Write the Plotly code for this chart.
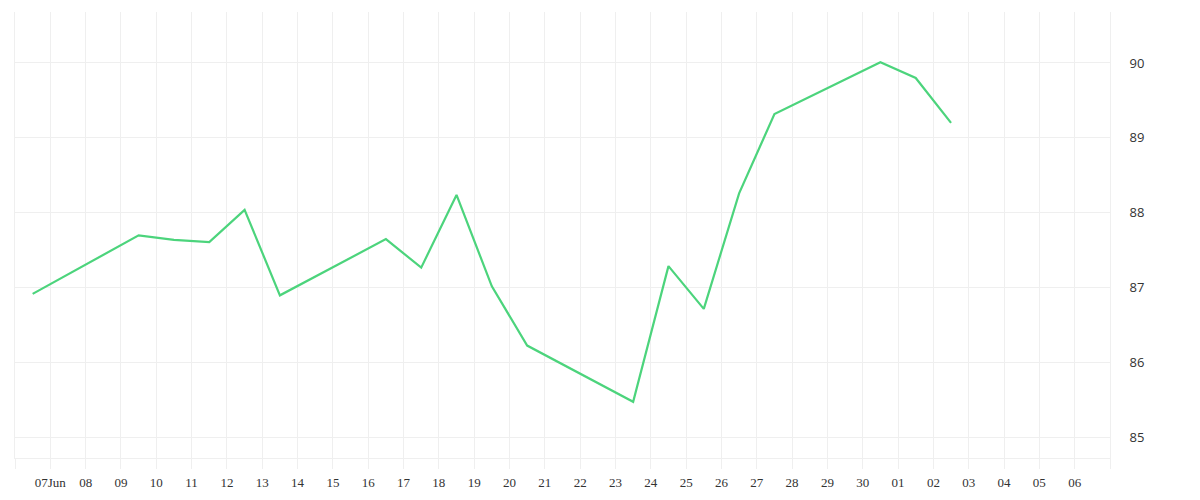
import plotly.graph_objects as go
import pandas as pd

# trading days (points sit at midday)
dates = ["2025-06-06", "2025-06-09", "2025-06-10", "2025-06-11", "2025-06-12",
         "2025-06-13", "2025-06-16", "2025-06-17", "2025-06-18", "2025-06-19",
         "2025-06-20", "2025-06-23", "2025-06-24", "2025-06-25", "2025-06-26",
         "2025-06-27", "2025-06-30", "2025-07-01", "2025-07-02"]
values = [86.92, 87.70, 87.64, 87.61, 88.04,
          86.90, 87.65, 87.27, 88.24, 87.02,
          86.23, 85.48, 87.29, 86.72, 88.26,
          89.32, 90.01, 89.80, 89.20]

tick_days = pd.date_range("2025-06-06", "2025-07-07", freq="D")
tick_labels = [""] + ["07Jun"] + [d.strftime("%d") for d in tick_days[2:-1]] + [""]

x = [pd.Timestamp(d) + pd.Timedelta(hours=12) for d in dates]

grid = "#efefef"

fig = go.Figure()
fig.add_trace(go.Scatter(
    x=x, y=values, mode="lines",
    line=dict(color="#4cd47c", width=2.2),
    hoverinfo="x+y",
))

# page body adds 8px offset, margins compensate
fig.update_layout(
    width=1200, height=500,
    margin=dict(l=7, r=98, t=4, b=50),
    paper_bgcolor="white", plot_bgcolor="white",
    showlegend=False,
    xaxis=dict(
        range=[tick_days[0], tick_days[-1]],
        tickvals=list(tick_days), ticktext=tick_labels,
        showgrid=True, gridcolor=grid, gridwidth=1,
        ticks="outside", ticklen=10, tickcolor=grid, tickwidth=1,
        showline=True, linecolor=grid, linewidth=1,
        zeroline=False, ticklabelstandoff=2,
        tickfont=dict(family="Liberation Serif", size=13, color="#333333"),
    ),
    yaxis=dict(
        side="right",
        range=[84.73, 90.68], dtick=1,
        showgrid=True, gridcolor=grid, gridwidth=1,
        showline=True, mirror=True, linecolor=grid, linewidth=1,
        zeroline=False, ticks="",
        ticklabelstandoff=16,
        tickfont=dict(family="Open Sans", size=13, color="#333333"),
    ),
)

fig.write_html("out.html")
